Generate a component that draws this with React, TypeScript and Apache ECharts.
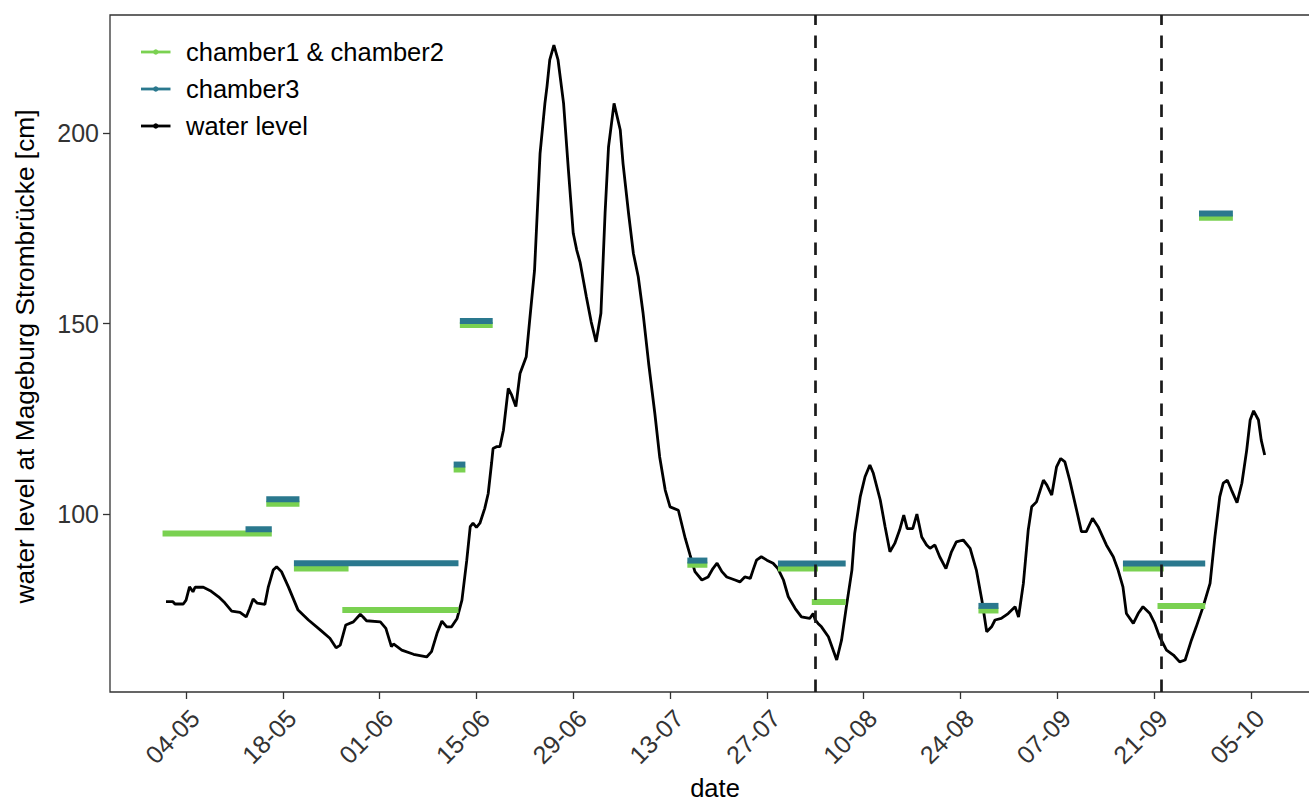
import React, { useEffect, useRef } from 'react';
import * as echarts from 'echarts';

// x values are days counted from 04-05 (day 0)
const tickDays = [0, 14, 28, 42, 56, 70, 84, 98, 112, 126, 140, 154];
const tickLabels = ['04-05', '18-05', '01-06', '15-06', '29-06', '13-07', '27-07', '10-08', '24-08', '07-09', '21-09', '05-10'];
const yTicks = [100, 150, 200];
const eventDays = [91, 141];

const levelDays = [
  -2.9, -1.9, -1.6, -0.4, 0, 0.5, 1.0, 1.3, 2.5, 3.5, 4.7, 5.6, 6.6, 7.8, 8.7, 9.2, 9.7, 10.3, 11.4, 11.9,
  12.6, 13.1, 13.8, 14.8, 16.2, 17.7, 19.4, 20.8, 21.7, 22.3, 23.1, 24.2, 25.2, 25.6, 26.1, 28.1, 28.9, 29.7, 30.0, 31.2,
  32.9, 34.8, 35.5, 36.3, 37.0, 37.7, 38.4, 39.2, 39.9, 40.6, 41.1, 41.5, 42.0, 42.5, 43.2, 43.7, 44.2, 44.4, 44.9, 45.4,
  45.9, 46.6, 47.1, 47.7, 48.3, 49.2, 49.7, 50.4, 51.2, 51.9, 52.2, 52.6, 53.2, 53.8, 54.6, 55.3, 56.0, 56.5, 57.0, 57.9,
  58.6, 59.3, 60.0, 60.6, 61.1, 61.9, 62.8, 63.2, 64.0, 64.7, 65.4, 66.1, 66.9, 67.8, 68.5, 69.3, 70.0, 71.2, 72.2, 72.9,
  73.6, 74.6, 75.5, 76.2, 76.8, 77.5, 78.2, 79.4, 80.1, 80.8, 81.6, 82.0, 82.5, 83.2, 84.0, 84.9, 85.6, 86.4, 87.1, 88.1,
  89.0, 90.2, 90.7, 91.0, 91.4, 91.9, 92.9, 94.1, 94.8, 95.5, 96.3, 96.7, 97.5, 98.2, 98.9, 99.4, 100.4, 101.1, 101.8, 102.5,
  103.2, 103.8, 104.3, 105.1, 105.7, 106.4, 107.1, 107.6, 108.3, 109.0, 109.9, 110.7, 111.4, 112.4, 113.4, 114.3, 115.1, 115.8, 116.5, 117.0,
  117.9, 118.9, 119.9, 120.4, 121.1, 121.8, 122.3, 123.0, 124.0, 124.5, 125.2, 125.9, 126.5, 127.1, 127.8, 128.8, 129.5, 130.2, 131.1, 131.9,
  133.1, 134.1, 134.8, 135.5, 136.0, 137.0, 137.7, 138.4, 139.4, 140.1, 140.8, 141.8, 142.8, 143.7, 144.5, 145.4, 146.1, 147.1, 148.1, 148.8,
  149.5, 150.0, 150.6, 151.2, 152.0, 152.7, 153.4, 153.9, 154.4, 155.1, 155.5, 156.0,
];
const levelCm = [
  77.0, 77.0, 76.4, 76.4, 77.4, 80.9, 79.6, 80.8, 80.8, 79.9, 78.3, 76.7, 74.5, 74.2, 73.0, 75.2, 77.7, 76.6, 76.3, 80.9,
  85.3, 86.2, 84.9, 80.9, 74.8, 72.2, 69.6, 67.4, 64.9, 65.6, 70.9, 71.7, 73.7, 73.0, 72.0, 71.7, 70.0, 65.2, 65.9, 64.3,
  63.2, 62.5, 63.9, 68.7, 71.9, 70.4, 70.4, 72.6, 77.4, 87.9, 96.7, 97.6, 96.5, 97.6, 101.5, 105.4, 113.6, 117.2, 117.7, 117.7,
  122.0, 133.0, 131.2, 128.2, 136.9, 141.3, 150.9, 164.0, 194.7, 207.8, 212.2, 219.2, 223.1, 219.2, 207.8, 190.3, 173.7, 169.3, 166.0, 157.0,
  150.4, 145.2, 152.7, 178.9, 196.4, 207.8, 200.8, 192.0, 178.9, 168.4, 162.3, 152.7, 139.6, 126.4, 115.0, 106.3, 101.9, 101.0, 93.6, 89.2,
  84.9, 82.7, 83.5, 85.7, 87.1, 84.9, 83.5, 82.7, 82.2, 83.5, 83.1, 85.3, 87.9, 88.8, 87.9, 87.1, 85.7, 82.7, 78.3, 75.2,
  73.0, 72.6, 73.9, 72.2, 71.3, 70.4, 67.8, 61.7, 66.9, 75.7, 85.3, 94.9, 104.5, 109.8, 112.9, 110.7, 103.7, 96.7, 90.1, 92.3,
  95.8, 99.7, 96.2, 96.2, 100.0, 94.0, 91.9, 91.0, 91.9, 88.8, 85.7, 90.1, 92.7, 93.2, 91.0, 85.3, 77.4, 69.1, 70.4, 72.2,
  72.6, 73.9, 75.7, 73.0, 81.8, 95.8, 101.9, 103.2, 108.9, 107.6, 105.0, 112.4, 114.6, 113.7, 108.9, 101.0, 95.4, 95.4, 98.9, 96.7,
  91.9, 88.8, 85.3, 80.9, 73.9, 71.3, 73.9, 75.7, 73.9, 71.3, 67.8, 64.3, 63.0, 61.2, 61.7, 66.9, 70.4, 75.7, 81.8, 94.0,
  104.5, 108.1, 108.9, 106.3, 103.0, 108.1, 116.8, 124.7, 127.1, 124.7, 119.4, 115.5,
];

// chamber1 & chamber2 measurement periods (start day, end day, value)
const ch12Start = [-3.4, 11.6, 15.6, 22.6, 38.7, 39.6, 72.5, 85.6, 90.5, 114.6, 135.5, 140.5, 146.5];
const ch12End = [12.4, 16.4, 23.5, 39.4, 40.4, 44.35, 75.4, 91.4, 95.4, 117.5, 141.4, 147.4, 151.4];
const ch12Cm = [94.9, 102.7, 85.7, 74.8, 111.7, 149.6, 86.7, 85.7, 76.9, 74.7, 85.7, 75.9, 177.8];

// chamber3 measurement periods
const ch3Start = [8.6, 11.6, 15.6, 38.7, 39.6, 72.5, 85.6, 114.6, 135.5, 146.5];
const ch3End = [12.4, 16.4, 39.4, 40.4, 44.35, 75.4, 95.4, 117.5, 147.4, 151.4];
const ch3Cm = [96.0, 103.9, 87.1, 113.0, 150.7, 87.8, 87.0, 75.9, 87.0, 178.9];

const legendNames = ['chamber1 & chamber2', 'chamber3', 'water level'];

const FONT = 'Liberation Sans, Arial, Helvetica, sans-serif';
const GREEN = '#7AD151';
const TEAL = '#2A788E';
const BLACK = '#000000';
const legendColors = [GREEN, TEAL, BLACK];

function segmentSeries(name: string, color: string, starts: number[], ends: number[], vals: number[], z: number) {
  return {
    type: 'custom',
    name,
    z,
    clip: true,
    itemStyle: { color },
    encode: { x: [0, 1], y: 2 },
    data: starts.map((s, i) => [s, ends[i], vals[i]]),
    renderItem: (_params: any, api: any) => {
      const a = api.coord([api.value(0), api.value(2)]);
      const b = api.coord([api.value(1), api.value(2)]);
      return {
        type: 'rect',
        shape: { x: a[0], y: a[1] - 3, width: b[0] - a[0], height: 6 },
        style: { fill: color },
      };
    },
  };
}

export default function App() {
  const ref = useRef<HTMLDivElement>(null);
  useEffect(() => {
    const chart = echarts.init(ref.current!, null, { renderer: 'svg' });
    const legendGraphics: any[] = [];
    legendNames.forEach((name, i) => {
      const y = 52 + i * 37;
      legendGraphics.push(
        { type: 'line', shape: { x1: 141, y1: y, x2: 170.5, y2: y }, style: { stroke: legendColors[i], lineWidth: 2.8 }, z: 10 },
        { type: 'circle', shape: { cx: 155.8, cy: y, r: 2.7 }, style: { fill: legendColors[i] }, z: 10 },
        {
          type: 'text',
          x: 186,
          y,
          z: 10,
          style: { text: name, fontSize: 25.5, fill: '#000', fontFamily: FONT, verticalAlign: 'middle', align: 'left' },
        }
      );
    });
    const option: any = {
      animation: false,
      backgroundColor: '#ffffff',
      textStyle: { fontFamily: FONT },
      grid: {
        show: true,
        left: 110,
        top: 15,
        right: 0,
        bottom: 109,
        containLabel: false,
        outerBoundsMode: 'none',
        borderColor: '#333333',
        borderWidth: 1.3,
        backgroundColor: 'transparent',
      },
      graphic: legendGraphics,
      xAxis: {
        type: 'value',
        min: -11,
        max: 164,
        name: 'date',
        nameLocation: 'middle',
        nameGap: 81,
        nameTextStyle: { fontSize: 25.5, color: '#000', fontFamily: FONT },
        splitLine: { show: false },
        axisLine: { show: false, onZero: false },
        axisTick: { show: true, length: 7, lineStyle: { color: '#333', width: 1.3 }, customValues: tickDays },
        axisLabel: {
          customValues: tickDays,
          rotate: 45,
          fontSize: 25,
          color: '#333',
          fontFamily: FONT,
          margin: 13,
          align: 'right',
          verticalAlign: 'top',
          formatter: (v: number) => {
            const i = tickDays.indexOf(Math.round(v));
            return i >= 0 ? tickLabels[i] : '';
          },
        },
      },
      yAxis: {
        type: 'value',
        min: 53.3,
        max: 231,
        name: 'water level at Mageburg Strombrücke [cm]',
        nameLocation: 'middle',
        nameRotate: 90,
        nameGap: 72,
        nameTextStyle: { fontSize: 26.3, color: '#000', fontFamily: FONT, padding: [0, 6, 0, 0] },
        splitLine: { show: false },
        axisLine: { show: false, onZero: false },
        axisTick: { show: true, length: 7, lineStyle: { color: '#333', width: 1.3 }, customValues: yTicks },
        axisLabel: { customValues: yTicks, fontSize: 25, color: '#333', fontFamily: FONT, margin: 11 },
      },
      series: [
        {
          type: 'line',
          name: 'water level',
          z: 2,
          data: levelDays.map((d, i) => [d, levelCm[i]]),
          showSymbol: false,
          symbol: 'none',
          lineStyle: { color: BLACK, width: 2.8 },
          itemStyle: { color: BLACK },
          markLine: {
            silent: true,
            symbol: ['none', 'none'],
            label: { show: false },
            lineStyle: { color: '#1a1a1a', width: 2.7, type: [12.5, 10.5] },
            data: eventDays.map((d) => ({ xAxis: d })),
          },
        },
        segmentSeries('chamber1 & chamber2', GREEN, ch12Start, ch12End, ch12Cm, 3),
        segmentSeries('chamber3', TEAL, ch3Start, ch3End, ch3Cm, 4),
      ],
    };
    chart.setOption(option);
    return () => chart.dispose();
  }, []);
  return (
    <div style={{ position: 'absolute', left: 0, top: 0, width: 1309, height: 801, overflow: 'hidden', background: '#fff' }}>
      <div ref={ref} style={{ width: 1320, height: 801 }} />
    </div>
  );
}
